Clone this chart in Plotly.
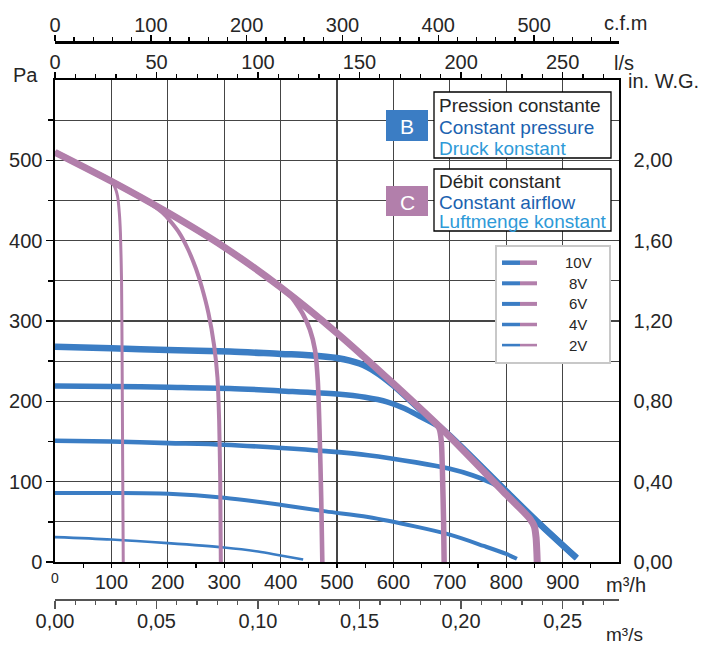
import plotly.graph_objects as go

# ---------------- data ----------------
voltages = ["10V", "8V", "6V", "4V", "2V"]

# B : constant pressure (blue)  x = m3/h, y = Pa
cp_10v_x = [0, 100, 200, 310, 400, 450, 500, 540, 570, 600, 650, 700, 800, 854, 925]
cp_10v_y = [268, 266, 264, 262, 259, 257.5, 254, 247, 236, 220, 188, 157, 88, 51, 5]
cp_8v_x = [0, 100, 200, 310, 400, 500, 550, 590, 620, 650, 677, 700, 800, 854, 925]
cp_8v_y = [219, 218.5, 217.5, 216, 213, 209, 205, 199, 191, 180, 170, 157, 88, 51, 5]
cp_6v_x = [0, 100, 201, 300, 402, 480, 555, 640, 700, 740, 775, 801, 854, 925]
cp_6v_y = [151, 150, 148, 146, 142, 138, 133, 124, 116, 108, 98, 87, 51, 5]
cp_4v_x = [0, 100, 201, 300, 402, 480, 555, 640, 700, 760, 800, 819]
cp_4v_y = [86, 86, 85, 80, 71, 63, 56, 44, 34, 20, 10, 4]
cp_2v_x = [0, 100, 200, 300, 360, 400, 440]
cp_2v_y = [31, 28, 23.5, 18, 13, 8, 3]

# C : constant airflow (purple)
ca_10v_x = [0, 100, 200, 300, 400, 500, 600, 700, 800, 830, 843, 850, 853, 854.5, 855]
ca_10v_y = [510, 474, 435, 392, 342, 285, 222, 156, 84, 63, 53, 44, 30, 10, 0]
ca_8v_x = [0, 100, 200, 300, 400, 500, 600, 650, 670, 681, 685, 687, 689, 690]
ca_8v_y = [510, 474, 435, 392, 342, 285, 222, 189, 176, 166, 150, 110, 50, 0]
ca_6v_x = [0, 100, 200, 300, 400, 418, 440, 452, 461, 466, 469, 472, 474]
ca_6v_y = [510, 474, 435, 392, 342, 331, 308, 289, 264, 225, 165, 80, 0]
ca_4v_x = [0, 100, 165, 195, 220, 236, 250, 260, 272, 282, 288, 291, 293, 294]
ca_4v_y = [510, 474, 448, 432, 410, 389, 365, 343, 310, 270, 230, 177, 100, 0]
ca_2v_x = [0, 50, 95, 105, 111, 114, 116, 118, 119, 120, 121]
ca_2v_y = [510, 492, 476, 468, 455, 435, 410, 350, 250, 120, 0]

# axes ticks
m3h_tickvals = [100, 200, 300, 400, 500, 600, 700, 800, 900]
m3h_ticktext = ["100", "200", "300", "400", "500", "600", "700", "800", "900"]
pa_tickvals = [0, 100, 200, 300, 400, 500]
pa_ticktext = ["0", "100", "200", "300", "400", "500"]
inwg_ticktext = ["0,00", "0,40", "0,80", "1,20", "1,60", "2,00"]
ls_tickvals = [0, 50, 100, 150, 200, 250]
cfm_tickvals = [0, 100, 200, 300, 400, 500]
m3s_tickvals = [0.0, 0.05, 0.10, 0.15, 0.20, 0.25]
m3s_ticktext = ["0,00", "0,05", "0,10", "0,15", "0,20", "0,25"]

# ---------------- styling ----------------
BLUE = "#3b7dc4"
PURPLE = "#b27fab"
GRID = "#454545"
TXT = "#262626"
FONT = "Liberation Sans, Arial, sans-serif"
W, H = 701, 646
L_PX, R_PX, T_PX, B_PX = 55, 619, 80, 562
XMAX = 1000.0


def X(px):
    return (px - L_PX) / (R_PX - L_PX)


def Y(py):
    return 1 - py / H


fig = go.Figure()

cp = [(cp_10v_x, cp_10v_y), (cp_8v_x, cp_8v_y), (cp_6v_x, cp_6v_y), (cp_4v_x, cp_4v_y), (cp_2v_x, cp_2v_y)]
ca = [(ca_10v_x, ca_10v_y), (ca_8v_x, ca_8v_y), (ca_6v_x, ca_6v_y), (ca_4v_x, ca_4v_y), (ca_2v_x, ca_2v_y)]
cp_w = [6.5, 5.5, 4.6, 4.0, 2.6]
ca_w = [7.0, 5.5, 4.6, 4.0, 3.0]

for (xs, ys), w, v in zip(cp, cp_w, voltages):
    fig.add_trace(go.Scatter(x=xs, y=ys, mode="lines", name="B " + v,
                             line=dict(color=BLUE, width=w, shape="spline", smoothing=0.9),
                             hoverinfo="skip"))
for (xs, ys), w, v in zip(ca, ca_w, voltages):
    fig.add_trace(go.Scatter(x=xs, y=ys, mode="lines", name="C " + v,
                             line=dict(color=PURPLE, width=w, shape="spline", smoothing=0.6),
                             hoverinfo="skip"))

# helper traces for secondary axes (invisible)
for xa, ya in [("x2", "y"), ("x3", "y"), ("x4", "y"), ("x", "y2")]:
    fig.add_trace(go.Scatter(x=[0], y=[0], xaxis=xa, yaxis=ya, mode="markers",
                             marker=dict(opacity=0), hoverinfo="skip"))

ydom = [Y(B_PX), Y(T_PX)]
tickfont = dict(family=FONT, size=20, color=TXT)

fig.update_layout(
    width=W, height=H,
    margin=dict(l=L_PX, r=W - R_PX, t=0, b=0, autoexpand=False),
    paper_bgcolor="white", plot_bgcolor="white",
    showlegend=False,
    font=dict(family=FONT, color=TXT),
    xaxis=dict(
        range=[0, XMAX], domain=[0, 1], anchor="y", side="bottom",
        tickmode="array", tickvals=m3h_tickvals, ticktext=m3h_ticktext,
        tickfont=tickfont, ticks="outside", ticklen=4, tickcolor="black", tickwidth=1.2,
        ticklabelstandoff=-3,
        showline=True, linecolor="black", linewidth=1.6,
        showgrid=True, gridcolor=GRID, gridwidth=1.3, zeroline=False,
        minor=dict(tickmode="array", tickvals=[50 + 100 * i for i in range(10)],
                   ticks="outside", ticklen=4, tickcolor="black", showgrid=False),
    ),
    xaxis2=dict(
        range=[0, XMAX / 3.6], overlaying="x", anchor="y", side="top",
        tickmode="array", tickvals=ls_tickvals,
        tickfont=tickfont, ticks="outside", ticklen=6, tickcolor="black", tickwidth=1.2,
        ticklabelstandoff=-5,
        showline=True, linecolor="black", linewidth=1.6, showgrid=False, zeroline=False,
        minor=dict(tickmode="array", tickvals=[v for v in range(10, 280, 10) if v % 50],
                   ticks="outside", ticklen=4, tickcolor="black"),
    ),
    xaxis3=dict(
        range=[0, XMAX / 1.69901], overlaying="x", anchor="free", position=Y(42), side="top",
        tickmode="array", tickvals=cfm_tickvals,
        tickfont=tickfont, ticks="outside", ticklen=6, tickcolor="black", tickwidth=1.4,
        ticklabelstandoff=-5,
        showline=True, linecolor="black", linewidth=2.6, showgrid=False, zeroline=False,
        minor=dict(tickmode="array", tickvals=[v for v in range(20, 590, 20) if v % 100],
                   ticks="outside", ticklen=4, tickcolor="black"),
    ),
    xaxis4=dict(
        range=[0, XMAX / 3600.0], overlaying="x", anchor="free", position=Y(599), side="bottom",
        tickmode="array", tickvals=m3s_tickvals, ticktext=m3s_ticktext,
        tickfont=tickfont, ticks="outside", ticklen=8, tickcolor="#555", tickwidth=1.3,
        ticklabelstandoff=-5,
        showline=True, linecolor="#555", linewidth=1.6, showgrid=False, zeroline=False,
        minor=dict(tickmode="array", tickvals=[i / 100 for i in range(1, 28) if i % 5],
                   ticks="outside", ticklen=4, tickcolor="#555"),
    ),
    yaxis=dict(
        range=[0, 600], domain=ydom, anchor="x", side="left",
        tickmode="array", tickvals=pa_tickvals, ticktext=pa_ticktext,
        tickfont=tickfont, ticks="outside", ticklen=7, tickcolor="black", tickwidth=1.4,
        showline=True, linecolor="black", linewidth=1.6,
        showgrid=True, gridcolor=GRID, gridwidth=1.3, zeroline=False,
        minor=dict(tickmode="array", tickvals=[50, 150, 250, 350, 450, 550],
                   ticks="outside", ticklen=5, tickcolor="black", showgrid=True,
                   gridcolor=GRID, gridwidth=1.3),
    ),
    yaxis2=dict(
        range=[0, 600], overlaying="y", anchor="x", side="right",
        tickmode="array", tickvals=pa_tickvals, ticktext=inwg_ticktext,
        tickfont=tickfont, ticks="", ticklabelstandoff=9,
        showline=True, linecolor="black", linewidth=1.6, showgrid=False, zeroline=False,
    ),
)

shapes = []
annotations = []


def ann(px, py, text, size=20, color=TXT, xanchor="left", yanchor="middle"):
    annotations.append(dict(x=X(px), y=Y(py), xref="paper", yref="paper", text=text,
                            showarrow=False, xanchor=xanchor, yanchor=yanchor,
                            font=dict(family=FONT, size=size, color=color)))


# axis names
ann(40, 75, "Pa", xanchor="right")
ann(649, 23, "c.f.m", xanchor="right")
ann(612, 63, "l/s")
ann(626, 81, "in. W.G.")
ann(604, 585, "m³/h")
ann(604, 634, "m³/s", size=19)
ann(55, 578, "0", size=14, xanchor="center")


def rect(x0, y0, x1, y1, fill="white", line="black", lw=1.3):
    shapes.append(dict(type="rect", xref="paper", yref="paper",
                       x0=X(x0), x1=X(x1), y0=Y(y1), y1=Y(y0),
                       fillcolor=fill, line=dict(color=line, width=lw), layer="above"))


# B / C boxes
rect(434, 92, 611, 158)
rect(386, 110, 428, 141, fill=BLUE, line=BLUE, lw=0)
ann(407, 126, "B", size=21, color="white", xanchor="center")
ann(437, 105, "Pression constante", size=19, color=TXT)
ann(437, 127, "Constant pressure", size=19, color="#1b62b0")
ann(437, 148, "Druck konstant", size=19, color="#2e9ad8")

rect(434, 169, 611, 231)
rect(386, 186, 428, 216, fill=PURPLE, line=PURPLE, lw=0)
ann(407, 202, "C", size=21, color="white", xanchor="center")
ann(437, 181, "Débit constant", size=19, color=TXT)
ann(437, 202, "Constant airflow", size=19, color="#1b62b0")
ann(437, 222, "Luftmenge konstant", size=19, color="#2e9ad8")

# legend
rect(496, 246, 610, 363, fill="white", line="#c8c8c8", lw=2)
leg_w = [4.5, 4.0, 4.0, 3.5, 2.6]
for i, v in enumerate(voltages):
    py = 262.7 + i * 20.6
    shapes.append(dict(type="line", xref="paper", yref="paper", x0=X(502), x1=X(520),
                       y0=Y(py), y1=Y(py), line=dict(color=BLUE, width=leg_w[i]), layer="above"))
    shapes.append(dict(type="line", xref="paper", yref="paper", x0=X(520), x1=X(537),
                       y0=Y(py), y1=Y(py), line=dict(color=PURPLE, width=leg_w[i]), layer="above"))
    ann(578, py, v, size=15, color=TXT, xanchor="center")

fig.update_layout(shapes=shapes, annotations=annotations)

fig.write_html("out.html", config={"displayModeBar": False, "staticPlot": True},
               post_script="document.body.style.margin='0px';document.body.style.overflow='hidden';")
